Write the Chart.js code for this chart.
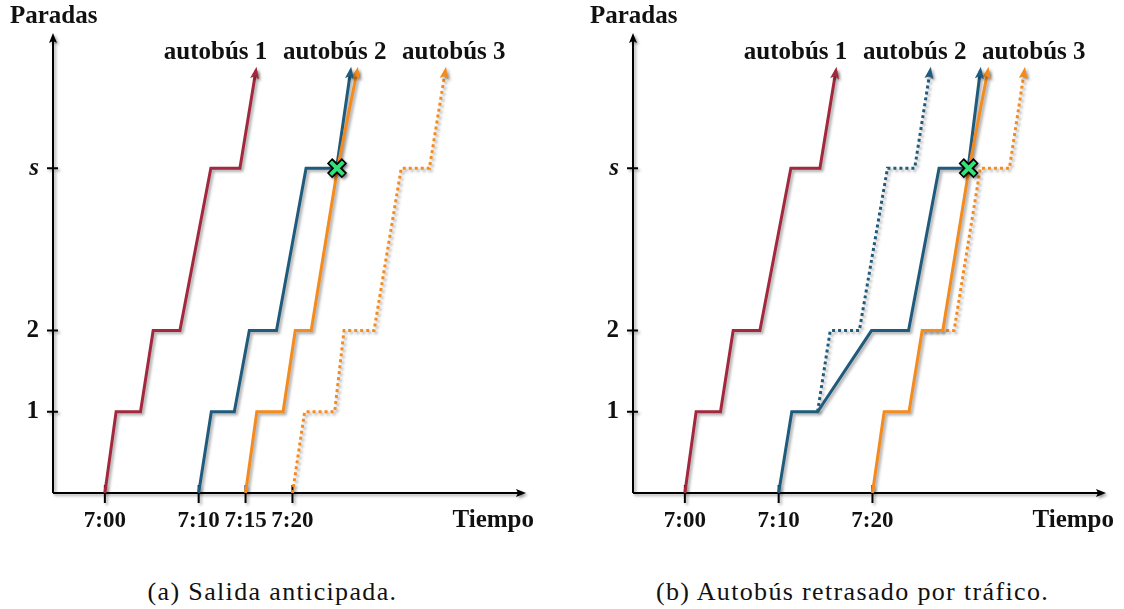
<!DOCTYPE html>
<html>
<head>
<meta charset="utf-8">
<script src="https://cdn.jsdelivr.net/npm/chart.js@4.4.1/dist/chart.umd.min.js"></script>
<style>
  html, body { margin: 0; padding: 0; background: #fff; }
  body { width: 1124px; height: 609px; position: relative; overflow: hidden; }
  .panel { position: absolute; top: 0; width: 544px; height: 545px; }
  .caption {
    position: absolute; top: 577px; width: 545px; text-align: center;
    font-family: "Liberation Serif", serif; font-size: 26px; letter-spacing: 1.35px; color: #111;
  }
</style>
</head>
<body>
<div class="panel" style="left:0"><canvas id="chartA" width="544" height="545"></canvas></div>
<div class="panel" style="left:580px"><canvas id="chartB" width="544" height="545"></canvas></div>
<div class="caption" style="left:0">(a) Salida anticipada.</div>
<div class="caption" style="left:580px">(b) Autobús retrasado por tráfico.</div>

<script>
// time in minutes after 7:00, position in stops (s = stop 4)
const STOP_S = 4;
const yTickValues = [1, 2, STOP_S];
const yTickLabels = ['1', '2', 's'];

const xTicksA = [0, 10, 15, 20];
const xLabelsA = ['7:00', '7:10', '7:15', '7:20'];
const xTicksB = [0, 10, 20];
const xLabelsB = ['7:00', '7:10', '7:20'];

const busNames = ['autobús 1', 'autobús 2', 'autobús 3'];

// (a) salida anticipada
const aBus1Time = [0, 1.2, 3.8, 5.15, 8.0, 11.3, 14.4, 16.1];
const aBus1Stop = [0, 1, 1, 2, 2, 4, 4, 5.2];
const aBus2Time = [10, 11.35, 13.8, 15.4, 18.3, 21.45, 24.7, 26.2];
const aBus2Stop = [0, 1, 1, 2, 2, 4, 4, 5.2];
const aBus3Time = [15, 16.2, 19.0, 20.3, 22.0, 24.8, 26.9];
const aBus3Stop = [0, 1, 1, 2, 2, 4, 5.2];
const aBus3PlanTime = [20, 21.3, 24.5, 25.5, 28.7, 31.6, 34.6, 36.3];
const aBus3PlanStop = [0, 1, 1, 2, 2, 4, 4, 5.2];
const aMeetTime = 24.75;

// (b) autobús retrasado por tráfico
const bBus1Time = [0, 1.2, 3.8, 5.15, 8.0, 11.3, 14.4, 16.1];
const bBus1Stop = [0, 1, 1, 2, 2, 4, 4, 5.2];
const bBus2PlanTime = [14.15, 15.5, 18.6, 21.6, 24.5, 26.15];
const bBus2PlanStop = [1, 2, 2, 4, 4, 5.2];
const bBus2Time = [10, 11.4, 14.15, 19.9, 23.85, 27.1, 30.2, 31.5];
const bBus2Stop = [0, 1, 1, 2, 2, 4, 4, 5.2];
const bBus3Time = [20, 21.25, 23.9, 25.3, 27.5, 30.3, 32.3];
const bBus3Stop = [0, 1, 1, 2, 2, 4, 5.2];
const bBus3PlanTime = [25.3, 28.7, 31.5, 34.6, 36.2];
const bBus3PlanStop = [2, 2, 4, 4, 5.2];
const bMeetTime = 30.25;

const RED = '#A3283D';
const BLUE = '#1F5B7C';
const ORANGE = '#F38B1F';
const GREEN = '#35E07A';
const FONT = '"Liberation Serif", "Times New Roman", serif';

function pts(times, stops) {
  return times.map((t, i) => ({ x: t, y: stops[i] }));
}

function route(times, stops, color, dotted) {
  return {
    data: pts(times, stops),
    borderColor: color,
    backgroundColor: color,
    borderWidth: 3,
    borderDash: dotted ? [3, 3] : [],
    pointRadius: 0,
    pointHoverRadius: 0,
    tension: 0,
    clip: false,
    arrow: true
  };
}

function meet(t, color, radius, width) {
  return {
    data: [{ x: t, y: STOP_S }],
    showLine: false,
    pointStyle: 'crossRot',
    pointRadius: radius,
    pointHoverRadius: radius,
    borderColor: color,
    pointBorderColor: color,
    pointBorderWidth: width,
    clip: false
  };
}

function shadow(ctx) {
  ctx.shadowColor = 'rgba(0,0,0,0.35)';
  ctx.shadowBlur = 3;
  ctx.shadowOffsetX = 2;
  ctx.shadowOffsetY = 2;
}

function arrowHead(ctx, x, y, ang, len, half) {
  ctx.save();
  ctx.translate(x, y);
  ctx.rotate(ang);
  ctx.beginPath();
  ctx.moveTo(0, 0);
  ctx.lineTo(-len, -half);
  ctx.lineTo(-len * 0.8, 0);
  ctx.lineTo(-len, half);
  ctx.closePath();
  ctx.fill();
  ctx.restore();
}

// axes with arrows, tick marks, route arrowheads and texts
const decor = {
  id: 'decor',
  beforeDatasetsDraw(chart) {
    const { ctx, chartArea: { left, right, top, bottom }, scales: { x, y } } = chart;
    ctx.save();
    shadow(ctx);
    ctx.strokeStyle = '#000';
    ctx.fillStyle = '#000';
    ctx.lineWidth = 2;
    ctx.beginPath();
    ctx.moveTo(left, bottom);
    ctx.lineTo(left, top + 6);
    ctx.moveTo(left, bottom);
    ctx.lineTo(right - 6, bottom);
    y.ticks.forEach(t => {
      const py = y.getPixelForValue(t.value);
      ctx.moveTo(left - 6, py);
      ctx.lineTo(left + 5, py);
    });
    x.ticks.forEach(t => {
      const px = x.getPixelForValue(t.value);
      ctx.moveTo(px, bottom - 8);
      ctx.lineTo(px, bottom + 10);
    });
    ctx.stroke();
    arrowHead(ctx, left, top, -Math.PI / 2, 10, 4);
    arrowHead(ctx, right, bottom, 0, 10, 4);
    ctx.restore();
  },
  beforeDatasetDraw(chart) {
    chart.ctx.save();
    shadow(chart.ctx);
  },
  afterDatasetDraw(chart) {
    chart.ctx.restore();
  },
  afterDatasetsDraw(chart) {
    const ctx = chart.ctx;
    chart.data.datasets.forEach((ds, i) => {
      if (!ds.arrow) return;
      const pts = chart.getDatasetMeta(i).data;
      const a = pts[pts.length - 2], b = pts[pts.length - 1];
      const ang = Math.atan2(b.y - a.y, b.x - a.x);
      ctx.save();
      shadow(ctx);
      ctx.fillStyle = ds.borderColor;
      arrowHead(ctx, b.x + 4 * Math.cos(ang), b.y + 4 * Math.sin(ang), ang, 12, 4.5);
      ctx.restore();
    });
  },
  afterDraw(chart, args, opts) {
    const { ctx, chartArea: { right }, scales: { x, y } } = chart;
    ctx.save();
    ctx.fillStyle = '#111';
    ctx.font = 'bold 25px ' + FONT;
    ctx.textBaseline = 'middle';
    ctx.textAlign = 'left';
    ctx.fillText('Paradas', 10, 17);
    ctx.textAlign = 'right';
    ctx.fillText('Tiempo', right + 8, 521);
    ctx.textAlign = 'center';
    busNames.forEach((name, i) => {
      ctx.fillText(name, x.getPixelForValue(opts.labelTimes[i]), y.getPixelForValue(5.43));
    });
    ctx.restore();
  }
};

function makeOptions(xTicks, xLabels) {
  return {
    responsive: false,
    animation: false,
    events: [],
    layout: { padding: { top: 33, right: 17, left: 0, bottom: 0 } },
    plugins: {
      legend: { display: false },
      tooltip: { enabled: false },
      decor: { labelTimes: [11.8, 24.5, 37.2] }
    },
    scales: {
      x: {
        type: 'linear',
        min: -5.53,
        max: 44.9,
        grid: { display: false, drawTicks: false },
        border: { display: false },
        afterBuildTicks: s => { s.ticks = xTicks.map(v => ({ value: v })); },
        afterFit: s => { s.height = 52; },
        ticks: {
          padding: 14,
          color: '#111',
          autoSkip: false,
          maxRotation: 0,
          font: { family: FONT, size: 23, weight: 'bold' },
          callback: (v, i) => xLabels[i]
        }
      },
      y: {
        type: 'linear',
        min: 0,
        max: 5.665,
        grid: { display: false, drawTicks: false },
        border: { display: false },
        afterBuildTicks: s => { s.ticks = yTickValues.map(v => ({ value: v })); },
        afterFit: s => { s.width = 53; },
        ticks: {
          padding: 14,
          color: '#111',
          autoSkip: false,
          font: c => ({
            family: FONT, size: 25, weight: 'bold',
            style: c.tick && c.tick.value === STOP_S ? 'italic' : 'normal'
          }),
          callback: (v, i) => yTickLabels[i]
        }
      }
    }
  };
}

new Chart(document.getElementById('chartA'), {
  type: 'line',
  data: {
    datasets: [
      meet(aMeetTime, GREEN, 9, 4),
      meet(aMeetTime, '#000', 10.5, 7.5),
      route(aBus3Time, aBus3Stop, ORANGE, false),
      route(aBus2Time, aBus2Stop, BLUE, false),
      route(aBus1Time, aBus1Stop, RED, false),
      route(aBus3PlanTime, aBus3PlanStop, ORANGE, true)
    ]
  },
  options: makeOptions(xTicksA, xLabelsA),
  plugins: [decor]
});

new Chart(document.getElementById('chartB'), {
  type: 'line',
  data: {
    datasets: [
      meet(bMeetTime, GREEN, 9, 4),
      meet(bMeetTime, '#000', 10.5, 7.5),
      route(bBus3Time, bBus3Stop, ORANGE, false),
      route(bBus2Time, bBus2Stop, BLUE, false),
      route(bBus1Time, bBus1Stop, RED, false),
      route(bBus2PlanTime, bBus2PlanStop, BLUE, true),
      route(bBus3PlanTime, bBus3PlanStop, ORANGE, true)
    ]
  },
  options: makeOptions(xTicksB, xLabelsB),
  plugins: [decor]
});
</script>
</body>
</html>
